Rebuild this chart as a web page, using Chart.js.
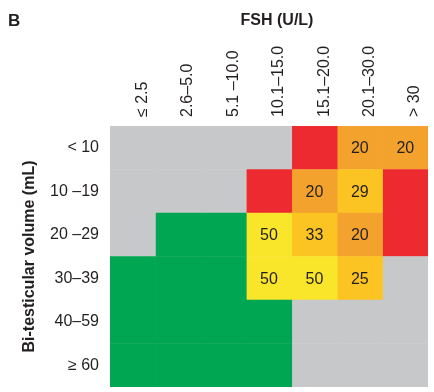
<!DOCTYPE html>
<html>
<head>
<meta charset="utf-8">
<script src="https://cdn.jsdelivr.net/npm/chart.js@4.4.0/dist/chart.umd.min.js"></script>
<style>
  html, body { margin: 0; padding: 0; background: #fff; }
  #wrap { width: 434px; height: 392px; }
</style>
</head>
<body>
<div id="wrap"><canvas id="fshChart" width="434" height="392"></canvas></div>
<script>
// FSH categories (columns) and bi-testicular volume categories (rows)
var fshLabels = ['≤ 2.5', '2.6–5.0', '5.1 –10.0', '10.1–15.0', '15.1–20.0', '20.1–30.0', '> 30'];
var volumeLabels = ['< 10', '10 –19', '20 –29', '30–39', '40–59', '≥ 60'];

// colour class of every cell, one string per row (columns left to right)
// N = green, Y = yellow, A = amber, O = orange, R = red, G = grey
var cellClass = [
  'GGGGROO',
  'GGGROAR',
  'GNNYAOR',
  'NNNYYAG',
  'NNNNGGG',
  'NNNNGGG'
];

// percentages printed in cells (null = empty)
var cellValues = [
  [null, null, null, null, null, 20, 20],
  [null, null, null, null, 20, 29, null],
  [null, null, null, 50, 33, 20, null],
  [null, null, null, 50, 50, 25, null],
  [null, null, null, null, null, null, null],
  [null, null, null, null, null, null, null]
];

var palette = {
  N: '#00a651',
  Y: '#f9e52a',
  A: '#fcc423',
  O: '#f2a22d',
  R: '#ec2a30',
  G: '#c7c8ca'
};

var fontFamily = '"Liberation Sans", Arial, Helvetica, sans-serif';
var textColor = '#231f20';

// one stacked dataset per FSH column, each cell has unit width
var datasets = fshLabels.map(function (lbl, col) {
  return {
    label: lbl,
    data: volumeLabels.map(function () { return 1; }),
    backgroundColor: cellClass.map(function (row) { return palette[row[col]]; }),
    borderWidth: 0,
    barPercentage: 1,
    categoryPercentage: 1
  };
});

var cellText = {
  id: 'cellText',
  afterDatasetsDraw: function (chart) {
    var ctx = chart.ctx;
    ctx.save();
    ctx.font = '16px ' + fontFamily;
    ctx.fillStyle = textColor;
    ctx.textAlign = 'center';
    ctx.textBaseline = 'middle';
    chart.data.datasets.forEach(function (ds, col) {
      chart.getDatasetMeta(col).data.forEach(function (bar, row) {
        var v = cellValues[row][col];
        if (v === null) return;
        var c = bar.getCenterPoint();
        ctx.fillText(String(v), c.x, c.y + 1);
      });
    });
    ctx.restore();
  }
};

var panelText = {
  id: 'panelText',
  afterDraw: function (chart) {
    var ctx = chart.ctx;
    var area = chart.chartArea;
    ctx.save();
    ctx.fillStyle = textColor;
    ctx.textBaseline = 'middle';
    ctx.font = 'bold 17px ' + fontFamily;
    ctx.textAlign = 'left';
    ctx.fillText('B', 8, 21);
    ctx.font = 'bold 16px ' + fontFamily;
    ctx.textAlign = 'center';
    ctx.fillText('FSH (U/L)', (area.left + area.right) / 2 + 8, 21);
    ctx.restore();
  }
};

new Chart(document.getElementById('fshChart'), {
  type: 'bar',
  data: {
    labels: volumeLabels,
    datasets: datasets
  },
  options: {
    indexAxis: 'y',
    responsive: false,
    animation: false,
    layout: { padding: { left: 0, right: 6, top: 0, bottom: 5 } },
    plugins: {
      legend: { display: false },
      tooltip: { enabled: false }
    },
    scales: {
      x: {
        stacked: true,
        min: 0,
        max: fshLabels.length,
        display: false
      },
      y: {
        stacked: true,
        grid: { display: false, drawTicks: false },
        border: { display: false },
        ticks: {
          padding: 11,
          color: textColor,
          font: { size: 16, family: fontFamily }
        },
        title: {
          display: true,
          text: 'Bi-testicular volume (mL)',
          color: textColor,
          font: { size: 16, weight: 'bold', family: fontFamily },
          padding: { top: 20, bottom: 0 }
        },
        afterFit: function (scale) {
          scale.width = 110;
          scale.paddingTop = 0;
          scale.paddingBottom = 0;
        }
      },
      xTop: {
        type: 'category',
        labels: fshLabels,
        position: 'top',
        offset: true,
        grid: { display: false, drawTicks: false },
        border: { display: false },
        ticks: {
          minRotation: 90,
          maxRotation: 90,
          autoSkip: false,
          padding: 9,
          labelOffset: 29,
          color: textColor,
          font: { size: 16, family: fontFamily }
        },
        afterFit: function (scale) {
          scale.height = 126;
          scale.paddingLeft = 0;
          scale.paddingRight = 0;
        }
      }
    }
  },
  plugins: [cellText, panelText]
});
</script>
</body>
</html>
